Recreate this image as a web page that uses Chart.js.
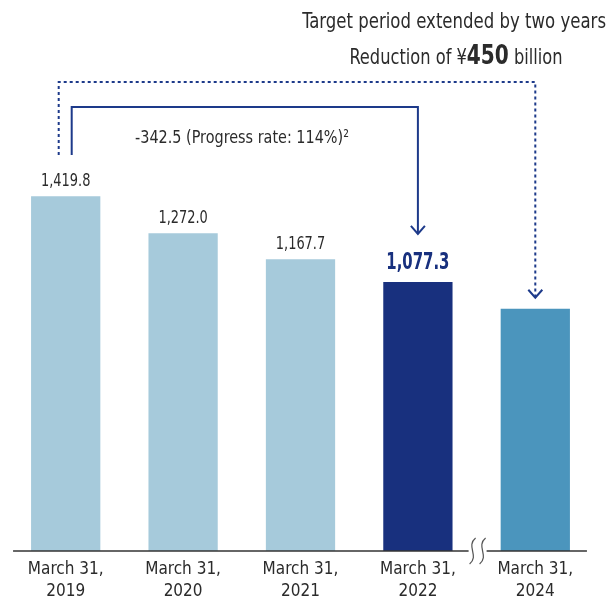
<!DOCTYPE html>
<html>
<head>
<meta charset="utf-8">
<script src="https://cdn.jsdelivr.net/npm/chart.js@4/dist/chart.umd.min.js"></script>
<style>
  html, body { margin: 0; padding: 0; background: #fff; overflow: hidden; }
  #wrap { width: 613px; height: 598px; overflow: hidden; }
</style>
</head>
<body>
<div id="wrap"><canvas id="debtChart" width="613" height="611"></canvas></div>
<script>
// DATA
const categories = [['March 31,', '2019'], ['March 31,', '2020'], ['March 31,', '2021'], ['March 31,', '2022'], ['March 31,', '2024']];
const values = [1419.8, 1272.0, 1167.7, 1077.3, 969.8];
const valueLabels = ['1,419.8', '1,272.0', '1,167.7', '1,077.3', ''];
const barColors = ['#a6cadb', '#a6cadb', '#a6cadb', '#18307e', '#4b95bd'];

const FONT = '"DejaVu Sans Condensed", "DejaVu Sans", sans-serif';
const NAVY = '#1d3a8a';
const TEXT = '#2b2b2b';

// text squeezed horizontally to look like the condensed face of the original
function squeezed(ctx, text, x, y, font, sx, align) {
    ctx.save();
    ctx.font = font;
    ctx.textAlign = align || 'center';
    ctx.translate(x, y);
    ctx.scale(sx, 1);
    ctx.fillText(text, 0, 0);
    ctx.restore();
}

// axis line, labels, arrows, axis break
const overlay = {
    id: 'overlay',
    afterDatasetsDraw(chart) {
        const ctx = chart.ctx;
        const bars = chart.getDatasetMeta(0).data;
        const yScale = chart.scales.y;
        const by = yScale.getPixelForValue(0);

        ctx.save();
        // baseline
        ctx.strokeStyle = '#333';
        ctx.lineWidth = 1.3;
        ctx.beginPath();
        ctx.moveTo(bars[0].x - bars[0].width / 2 - 18, by);
        ctx.lineTo(bars[4].x + bars[4].width / 2 + 17, by);
        ctx.stroke();

        ctx.textBaseline = 'middle';
        bars.forEach((bar, i) => {
            if (!valueLabels[i]) return;
            if (i === 3) {
                ctx.fillStyle = '#18307e';
                squeezed(ctx, valueLabels[i], bar.x, bar.y - 19, 'bold 23px ' + FONT, 0.72);
            } else {
                ctx.fillStyle = TEXT;
                squeezed(ctx, valueLabels[i], bar.x, bar.y - 15, '18px ' + FONT, 0.8);
            }
        });

        const x1 = bars[0].x;
        const x4 = bars[3].x;
        const x5 = bars[4].x;

        function arrowHead(x, y) {
            ctx.setLineDash([]);
            ctx.beginPath();
            ctx.moveTo(x - 7, y - 8);
            ctx.lineTo(x, y);
            ctx.lineTo(x + 7, y - 8);
            ctx.stroke();
        }

        ctx.strokeStyle = NAVY;
        ctx.lineWidth = 2;

        // solid: actual reduction
        ctx.beginPath();
        ctx.moveTo(x1 + 6, 155);
        ctx.lineTo(x1 + 6, 107);
        ctx.lineTo(x4, 107);
        ctx.lineTo(x4, bars[3].y - 48);
        ctx.stroke();
        arrowHead(x4, bars[3].y - 48);

        // dotted: target
        ctx.setLineDash([3, 3]);
        ctx.beginPath();
        ctx.moveTo(x1 - 7, 155);
        ctx.lineTo(x1 - 7, 82);
        ctx.lineTo(x5, 82);
        ctx.lineTo(x5, bars[4].y - 11);
        ctx.stroke();
        arrowHead(x5, bars[4].y - 11);

        // texts
        ctx.fillStyle = TEXT;
        squeezed(ctx, '-342.5 (Progress rate: 114%)\u00b2', 242, 138, '18px ' + FONT, 0.89);
        squeezed(ctx, 'Target period extended by two years', 606, 23, '21px ' + FONT, 0.876, 'right');

        // Reduction of ¥450 billion
        const p1 = 'Reduction of \u00a5', p2 = '450', p3 = ' billion';
        const f1 = '21px ' + FONT, f2 = 'bold 26px ' + FONT, sx = 0.86;
        ctx.font = f1;
        const w1 = ctx.measureText(p1).width * sx, w3 = ctx.measureText(p3).width * sx;
        ctx.font = f2;
        const w2 = ctx.measureText(p2).width * sx;
        const lx = 456 - (w1 + w2 + w3) / 2;
        ctx.textBaseline = 'alphabetic';
        squeezed(ctx, p1, lx, 64, f1, sx, 'left');
        squeezed(ctx, p2, lx + w1, 64, f2, sx, 'left');
        squeezed(ctx, p3, lx + w1 + w2, 64, f1, sx, 'left');

        // axis break between last two bars
        const bx = (bars[3].x + bars[4].x) / 2 + 1;
        ctx.fillStyle = '#fff';
        ctx.fillRect(bx - 9, by - 2, 18, 4);
        ctx.strokeStyle = '#555';
        ctx.lineWidth = 1.2;
        [-5, 5].forEach(off => {
            ctx.beginPath();
            ctx.moveTo(bx + off + 3, by - 13);
            ctx.bezierCurveTo(bx + off - 7, by - 5, bx + off + 7, by + 5, bx + off - 3, by + 13);
            ctx.stroke();
        });
        ctx.restore();
    }
};

new Chart(document.getElementById('debtChart'), {
    type: 'bar',
    data: {
        labels: categories,
        datasets: [{
            data: values,
            backgroundColor: barColors,
            barPercentage: 0.59,
            categoryPercentage: 1.0
        }]
    },
    options: {
        responsive: false,
        animation: false,
        layout: { padding: { left: 7, right: 19, top: 0, bottom: 0 } },
        plugins: { legend: { display: false }, tooltip: { enabled: false } },
        scales: {
            x: {
                grid: { display: false, drawTicks: false },
                border: { display: false },
                ticks: {
                    color: TEXT,
                    padding: 8,
                    font: { family: FONT, size: 17, lineHeight: 22 / 17 }
                }
            },
            y: {
                display: false,
                min: 0,
                max: 2206
            }
        }
    },
    plugins: [overlay]
});
</script>
</body>
</html>
